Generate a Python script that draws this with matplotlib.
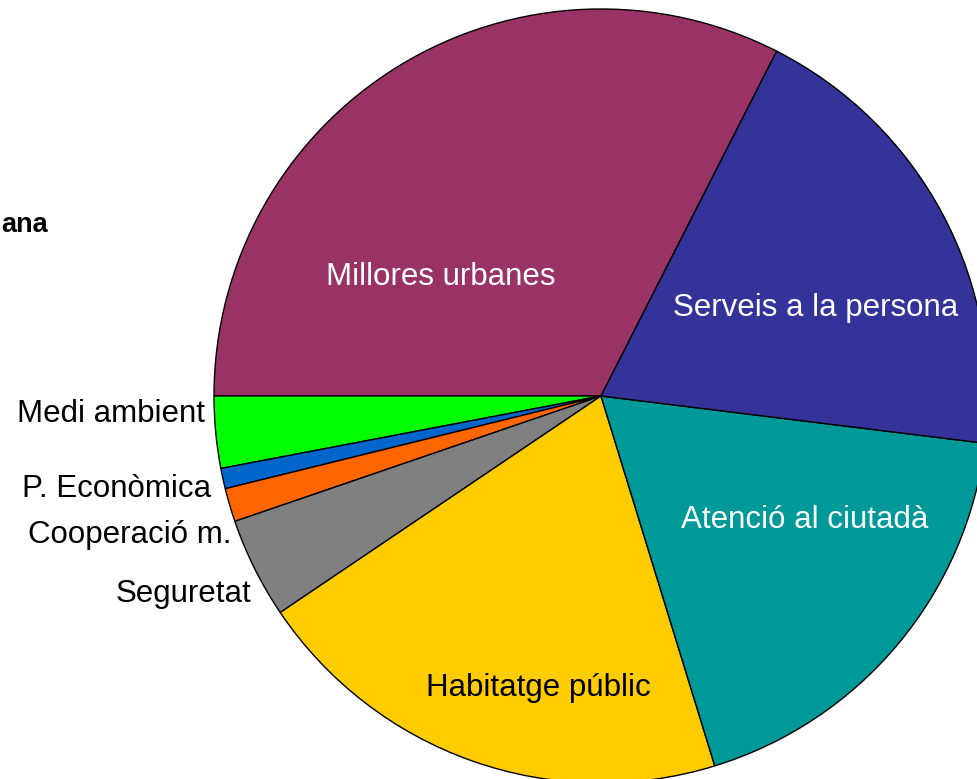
import matplotlib
matplotlib.use("Agg")
import matplotlib.pyplot as plt

# ---------------- DATA ----------------
# shares (%), in counter-clockwise drawing order
categories = ["Millores urbanes", "Medi ambient", "P. Econòmica", "Cooperació m.",
              "Seguretat", "Habitatge públic", "Atenció al ciutadà", "Serveis a la persona"]
shares = [32.5, 3.0, 0.85, 1.4, 4.2, 20.3, 18.3, 19.45]
colors = ["#993366", "#00FF00", "#0066CC", "#FF6600",
          "#808080", "#FFCC00", "#009999", "#333399"]

# ---------------- LAYOUT (pixel space) ----------------
W, H = 978, 779
CX, CY, R = 601, H - 396, 387
START = 63.0
FS = 22.5

plt.rcParams["font.family"] = ["Liberation Sans", "DejaVu Sans"]

fig = plt.figure(figsize=(W / 100, H / 100), dpi=100)
ax = fig.add_axes([0, 0, 1, 1])

ax.pie(shares, colors=colors, startangle=START, counterclock=True,
       center=(CX, CY), radius=R, frame=True,
       wedgeprops=dict(edgecolor="black", linewidth=1.0))
ax.set_xlim(0, W)
ax.set_ylim(0, H)
ax.set_aspect("equal")
ax.axis("off")

# labels inside the slices
inside = {
    "Millores urbanes": (441, 285, "white"),
    "Serveis a la persona": (816, 316, "white"),
    "Atenció al ciutadà": (805, 528, "white"),
    "Habitatge públic": (538, 696, "black"),
}
for name, (x, y, c) in inside.items():
    ax.text(x, H - y, name, ha="center", va="baseline", color=c, fontsize=FS)

# labels outside (small slices), right-aligned next to the pie
outside = {
    "Medi ambient": (205, 422),
    "P. Econòmica": (211, 497),
    "Cooperació m.": (232, 543),
    "Seguretat": (251, 602),
}
for name, (x, y) in outside.items():
    ax.text(x, H - y, name, ha="right", va="baseline", color="black", fontsize=FS)

# remnant of the title at the left edge
ax.text(1, H - 232, "ana", ha="left", va="baseline", fontsize=19.5, fontweight="bold")

fig.savefig("out.png", dpi=100, facecolor="white")
